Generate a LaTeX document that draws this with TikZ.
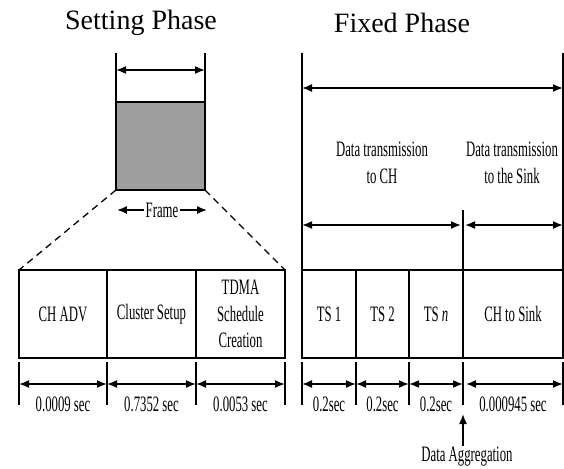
\documentclass[tikz,border=0pt]{standalone}
\usepackage{fontspec}
\setmainfont{Liberation Serif}
\newfontfamily\narrowfont[FakeStretch=0.58]{Liberation Serif}
\usetikzlibrary{arrows.meta,positioning}

\begin{document}
\begin{tikzpicture}[x=1pt, y=-1pt, node distance=0pt, line width=1.6pt]
    \tikzstyle{phase} = [font=\fontsize{28}{30}\selectfont, inner sep=0pt]
    \tikzstyle{cell} = [draw, rectangle, minimum height=88pt, inner sep=0pt, outer sep=0pt, align=center, font=\narrowfont\fontsize{22}{26.5}\selectfont]
    \tikzstyle{small} = [font=\narrowfont\fontsize{22}{26.5}\selectfont, inner sep=1pt, align=center]
    \tikzstyle{span} = [{Latex[length=10pt,width=8pt]}-{Latex[length=10pt,width=8pt]}]
    \tikzstyle{tick} = [line width=1.3pt]

    \useasboundingbox (0,0) rectangle (564,468);

    \node[phase] (setting) at (141,23) {Setting Phase};
    \node[phase] (fixed) at (402,23) {Fixed Phase};

    % setting phase
    \node[cell, minimum width=89pt, fill=black!38] (frame) at (160.5,146) {};
    \coordinate (ftop) at (0,53);
    \coordinate (farrow) at (0,70);
    \draw (frame.north west) -- (frame.north west |- ftop);
    \draw (frame.north east) -- (frame.north east |- ftop);
    \draw[span] (frame.north west |- farrow) -- (frame.north east |- farrow);
    \node[small] (framelbl) at (162,210) {Frame};
    \draw[-{Latex[length=10pt,width=8pt]}] (framelbl.west) -- ++(-27,0);
    \draw[-{Latex[length=10pt,width=8pt]}] (framelbl.east) -- ++(27,0);

    \node[cell, minimum width=88pt, anchor=north west] (chadv) at (19,270) {CH ADV};
    \node[cell, minimum width=89pt, right=of chadv] (cluster) {Cluster Setup};
    \node[cell, minimum width=89pt, right=of cluster] (tdma) {TDMA\\Schedule\\Creation};
    \draw[dashed, dash pattern=on 7pt off 5pt, line width=1.3pt] (frame.south west) -- (chadv.north west);
    \draw[dashed, dash pattern=on 7pt off 5pt, line width=1.3pt] (frame.south east) -- (tdma.north east);

    \coordinate (arow) at (0,384);
    \coordinate (lrow) at (0,404);
    \draw[tick] ([yshift=-4pt]chadv.south west) -- ++(0,43);
    \draw[tick] ([yshift=-4pt]chadv.south east) -- ++(0,43);
    \draw[tick] ([yshift=-4pt]cluster.south east) -- ++(0,43);
    \draw[tick] ([yshift=-4pt]tdma.south east) -- ++(0,43);
    \draw[span] (chadv.south west |- arow) -- (chadv.south east |- arow);
    \draw[span] (cluster.south west |- arow) -- (cluster.south east |- arow);
    \draw[span] (tdma.south west |- arow) -- (tdma.south east |- arow);
    \node[small] (chadvtime) at (chadv.south |- lrow) {0.0009 sec};
    \node[small] (clustertime) at (cluster.south |- lrow) {0.7352 sec};
    \node[small] (tdmatime) at (tdma.south |- lrow) {0.0053 sec};

    % fixed phase
    \node[cell, minimum width=54pt, anchor=north west] (ts1) at (302,270) {TS 1};
    \node[cell, minimum width=53pt, right=of ts1] (ts2) {TS 2};
    \node[cell, minimum width=54pt, right=of ts2] (tsn) {TS \textit{n}};
    \node[cell, minimum width=100pt, right=of tsn] (sink) {CH to Sink};

    \coordinate (divtop) at (0,210);
    \coordinate (toprow) at (0,88);
    \coordinate (midrow) at (0,225);
    \draw (ts1.north west) -- (ts1.north west |- ftop);
    \draw (sink.north east) -- (sink.north east |- ftop);
    \draw (tsn.north east) -- (tsn.north east |- divtop);
    \draw[span] (ts1.north west |- toprow) -- (sink.north east |- toprow);
    \draw[span, shorten >=2pt] (ts1.north west |- midrow) -- (tsn.north east |- midrow);
    \draw[span, shorten <=2pt] (sink.north west |- midrow) -- (sink.north east |- midrow);
    \node[small] (toch) at (382,163) {Data transmission\\to CH};
    \node[small] (tosink) at (512,163) {Data transmission\\to the Sink};

    \draw[tick] ([yshift=-4pt]ts1.south west) -- ++(0,43);
    \draw[tick] ([yshift=-4pt]ts1.south east) -- ++(0,43);
    \draw[tick] ([yshift=-4pt]ts2.south east) -- ++(0,43);
    \draw[tick] ([yshift=-4pt]tsn.south east) -- ++(0,43);
    \draw[tick] ([yshift=-4pt]sink.south east) -- ++(0,43);
    \draw[span] (ts1.south west |- arow) -- (ts1.south east |- arow);
    \draw[span] (ts2.south west |- arow) -- (ts2.south east |- arow);
    \draw[span] (tsn.south west |- arow) -- (tsn.south east |- arow);
    \draw[span, shorten <=3pt] (sink.south west |- arow) -- (sink.south east |- arow);
    \node[small] (ts1time) at (ts1.south |- lrow) {0.2sec};
    \node[small] (ts2time) at (ts2.south |- lrow) {0.2sec};
    \node[small] (tsntime) at (tsn.south |- lrow) {0.2sec};
    \node[small] (sinktime) at (sink.south |- lrow) {0.000945 sec};

    \coordinate (aggtip) at (463,414);
    \node[small] (aggr) at (467,457) {Data Aggregation};
    \draw[-{Latex[length=10pt,width=8pt]}] (aggr.north -| aggtip) -- (aggtip);
\end{tikzpicture}
\end{document}
